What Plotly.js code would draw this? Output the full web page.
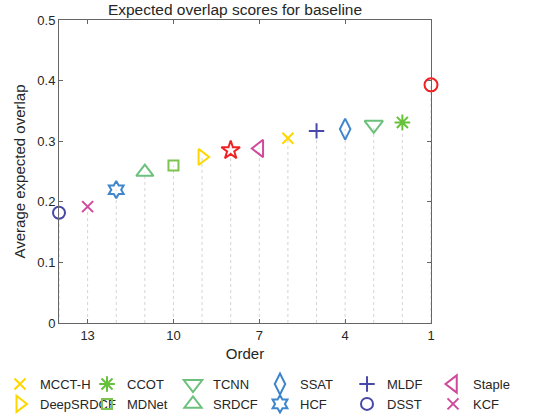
<!DOCTYPE html>
<html>
<head>
<meta charset="utf-8">
<script src="https://cdn.plot.ly/plotly-3.0.1.min.js"></script>
<style>html,body{margin:0;padding:0;background:#fff;}#chart{width:538px;height:417px;}</style>
</head>
<body>
<div id="chart"></div>
<script>
// Data (order rank 1 = best)
var trackers = ['Tracker-1', 'CCOT', 'TCNN', 'SSAT', 'MLDF', 'MCCT-H', 'Staple', 'Tracker-8', 'DeepSRDCF', 'MDNet', 'SRDCF', 'HCF', 'KCF', 'DSST'];
var orders   = [1, 2, 3, 4, 5, 6, 7, 8, 9, 10, 11, 12, 13, 14];
var scores   = [0.393, 0.331, 0.327, 0.320, 0.317, 0.305, 0.288, 0.285, 0.274, 0.260, 0.249, 0.220, 0.192, 0.182];
var inLegend = [false, true, true, true, true, true, true, false, true, true, true, true, true, true];
var xTickVals = [13, 10, 7, 4, 1];
var yTickVals = [0, 0.1, 0.2, 0.3, 0.4, 0.5];
var yTickText = ['0', '0.1', '0.2', '0.3', '0.4', '0.5'];
// legend entries, column-major (6 columns x 2 rows)
var legendOrder = ['MCCT-H', 'DeepSRDCF', 'CCOT', 'MDNet', 'TCNN', 'SRDCF', 'SSAT', 'HCF', 'MLDF', 'DSST', 'Staple', 'KCF'];

var styles = {
  'Tracker-1': {symbol: 'circle-open', color: '#EE2222', size: 13},
  'CCOT':      {symbol: 'asterisk-open', color: '#66C23A', size: 13},
  'TCNN':      {symbol: 'triangle-down-open', color: '#6CC07C', size: 16},
  'SSAT':      {symbol: 'diamond-tall-open', color: '#3F86CC', size: 15},
  'MLDF':      {symbol: 'cross-thin-open', color: '#4848A8', size: 11},
  'MCCT-H':    {symbol: 'x-thin-open', color: '#FFD700', size: 11},
  'Staple':    {symbol: 'triangle-left-open', color: '#D04A9C', size: 15},
  'Tracker-8': {symbol: 'star-open', color: '#EE2222', size: 14},
  'DeepSRDCF': {symbol: 'triangle-right-open', color: '#FFD700', size: 14},
  'MDNet':     {symbol: 'square-open', color: '#7CC350', size: 10},
  'SRDCF':     {symbol: 'triangle-up-open', color: '#6CC07C', size: 15},
  'HCF':       {symbol: 'hexagram-open', color: '#3F86CC', size: 13},
  'KCF':       {symbol: 'x-thin-open', color: '#D04A9C', size: 11},
  'DSST':      {symbol: 'circle-open', color: '#4848A8', size: 12}
};

var traces = [];
// dotted stems from 0 up to each score
var sx = [], sy = [];
for (var i = 0; i < orders.length; i++) {
  sx.push(orders[i], orders[i], null);
  sy.push(0, scores[i], null);
}
traces.push({
  type: 'scatter', mode: 'lines', x: sx, y: sy, showlegend: false, hoverinfo: 'skip',
  line: {color: '#d4d4d4', width: 1, dash: 'dot'}
});

for (var j = 0; j < trackers.length; j++) {
  if (!inLegend[j]) {
    var st = styles[trackers[j]];
    traces.push({
      type: 'scatter', mode: 'markers', name: trackers[j], x: [orders[j]], y: [scores[j]],
      showlegend: false, cliponaxis: false,
      marker: {symbol: st.symbol, size: st.size, color: st.color, line: {color: st.color, width: 2}}
    });
  }
}
var legendIds = ['legend', 'legend2', 'legend3', 'legend4', 'legend5', 'legend6'];
for (var k = 0; k < legendOrder.length; k++) {
  var idx = trackers.indexOf(legendOrder[k]);
  var s2 = styles[legendOrder[k]];
  traces.push({
    type: 'scatter', mode: 'markers', name: trackers[idx], x: [orders[idx]], y: [scores[idx]],
    cliponaxis: false, legend: legendIds[Math.floor(k / 2)],
    marker: {symbol: s2.symbol, size: s2.size, color: s2.color, line: {color: s2.color, width: 2}}
  });
}

var font = 'Liberation Sans, Arial, Helvetica, sans-serif';
var plotL = 59, plotW = 372;
var colLeftPx = [0, 87, 173, 260, 347, 433];
var layout = {
  width: 538, height: 417,
  margin: {l: 59, r: 107, t: 20, b: 94, autoexpand: false},
  paper_bgcolor: '#fff', plot_bgcolor: '#fff',
  font: {family: font, size: 13, color: '#262626'},
  title: {text: 'Expected overlap scores for baseline', font: {size: 15.5, color: '#262626'},
          x: 0.4368, xanchor: 'center', y: 0.978, yanchor: 'middle'},
  xaxis: {
    range: [14, 1], tickvals: xTickVals, ticktext: xTickVals.map(String),
    ticks: 'inside', ticklen: 4, tickcolor: '#666', showline: true, linecolor: '#666', linewidth: 1,
    mirror: 'ticks', showgrid: false, zeroline: false,
    tickfont: {size: 13, color: '#262626'},
    title: {text: 'Order', font: {size: 15, color: '#262626'}, standoff: 6}
  },
  yaxis: {
    range: [0, 0.5], tickvals: yTickVals, ticktext: yTickText,
    ticks: 'inside', ticklen: 4, tickcolor: '#666', showline: true, linecolor: '#666', linewidth: 1,
    mirror: 'ticks', showgrid: false, zeroline: false,
    tickfont: {size: 13, color: '#262626'},
    title: {text: 'Average expected overlap', font: {size: 15, color: '#262626'}, standoff: 8}
  },
  showlegend: true
};
for (var c = 0; c < legendIds.length; c++) {
  layout[legendIds[c]] = {
    orientation: 'v', x: (colLeftPx[c] - plotL) / plotW, xanchor: 'left', y: -0.152, yanchor: 'top',
    font: {size: 13, color: '#262626'}, tracegroupgap: 0, itemwidth: 30,
    bgcolor: 'rgba(0,0,0,0)', borderwidth: 0
  };
}

Plotly.newPlot('chart', traces, layout, {displayModeBar: false, staticPlot: true});
</script>
</body>
</html>
